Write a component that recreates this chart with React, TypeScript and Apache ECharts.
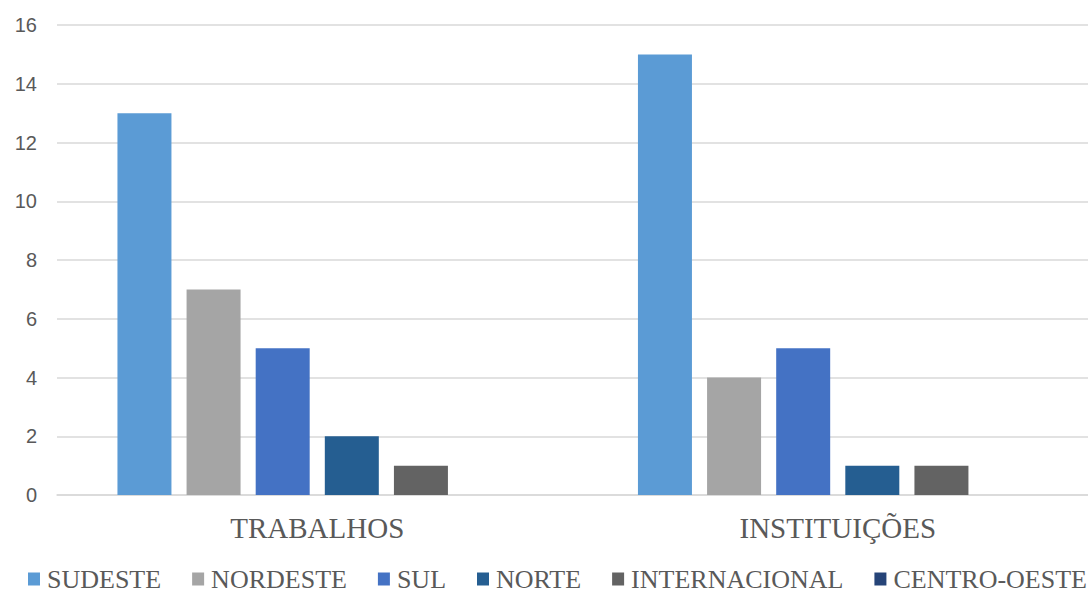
import React, { useEffect, useRef } from "react";
import * as echarts from "echarts";

const categories = ["TRABALHOS", "INSTITUIÇÕES"];
const seriesNames = ["SUDESTE", "NORDESTE", "SUL", "NORTE", "INTERNACIONAL", "CENTRO-OESTE"];
const sudeste = [13, 15];
const nordeste = [7, 4];
const sul = [5, 5];
const norte = [2, 1];
const internacional = [1, 1];
const centroOeste = [0, 0];
const seriesValues = [sudeste, nordeste, sul, norte, internacional, centroOeste];
const colors = ["#5B9BD5", "#A5A5A5", "#4472C4", "#255E91", "#636363", "#264478"];

export default function App() {
  const ref = useRef<HTMLDivElement>(null);
  useEffect(() => {
    if (!ref.current) return;
    const chart = echarts.init(ref.current, undefined, { renderer: "svg" });
    chart.setOption({
      animation: false,
      color: colors,
      grid: { left: 57, right: 0, top: 25, bottom: 99, containLabel: false },
      legend: {
        left: 23,
        top: 561,
        width: 3000,
        itemWidth: 12,
        itemHeight: 13,
        itemGap: 31,
        icon: "rect",
        textStyle: {
          fontFamily: "Liberation Serif",
          fontSize: 26,
          lineHeight: 26,
          color: "#595959",
          padding: [0, 0, 0, 2],
        },
        data: seriesNames,
      },
      xAxis: {
        type: "category",
        data: categories,
        axisLine: { lineStyle: { color: "#D9D9D9", width: 1.5 } },
        axisTick: { show: false },
        axisLabel: { fontFamily: "Liberation Serif", fontSize: 29, color: "#595959", margin: 18 },
      },
      yAxis: {
        type: "value",
        min: 0,
        max: 16,
        interval: 2,
        axisLine: { show: false },
        axisTick: { show: false },
        splitLine: { lineStyle: { color: "#D9D9D9", width: 1.5 } },
        axisLabel: { fontFamily: "Liberation Sans", fontSize: 20, color: "#595959", margin: 20 },
      },
      series: seriesNames.map((name, i) => ({
        name,
        type: "bar",
        data: seriesValues[i],
        barWidth: 54,
        barGap: "28%",
        itemStyle: { color: colors[i] },
      })),
    });
    return () => chart.dispose();
  }, []);
  return (
    <div
      style={{
        position: "fixed",
        left: 0,
        top: 0,
        width: 1088,
        height: 594,
        overflow: "hidden",
        background: "#fff",
      }}
    >
      <div ref={ref} style={{ width: 1098, height: 594 }} />
    </div>
  );
}
